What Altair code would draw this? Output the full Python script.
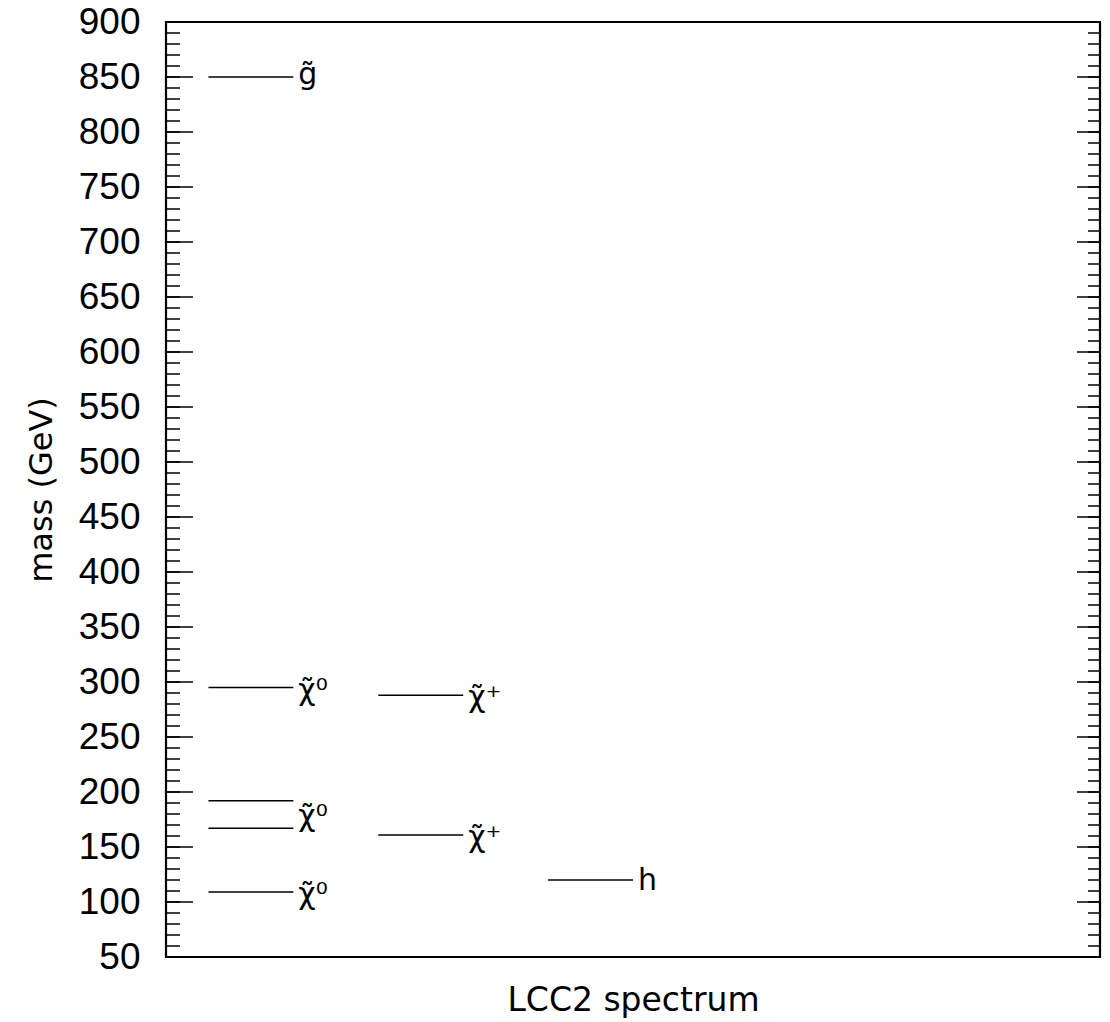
import altair as alt
import pandas as pd

# Mass levels (GeV) and the column each level sits in
level_names = ["gluino", "chi01", "chi02", "chi03", "chi04", "chi1p", "chi2p", "h"]
level_mass = [850, 109, 167, 192, 295, 161, 288, 120]
level_x0 = [0.5, 0.5, 0.5, 0.5, 0.5, 2.5, 2.5, 4.5]
level_x1 = [1.5, 1.5, 1.5, 1.5, 1.5, 3.5, 3.5, 5.5]

# Labels next to the levels
label_text = ["g\u0303", "\u03c7\u0303\u2070", "\u03c7\u0303\u2070", "\u03c7\u0303\u2070",
              "\u03c7\u0303\u207a", "\u03c7\u0303\u207a", "h"]
label_mass = [850, 295, 180, 109, 288, 161, 120]
label_x = [1.5, 1.5, 1.5, 1.5, 3.5, 3.5, 5.5]
label_dy = [-2, 3, 3, 3, 3, 3, 1]

major_ticks = list(range(50, 901, 50))
minor_ticks = list(range(50, 901, 10))

W, H = 934, 935
FONT = "DejaVu Sans"
NUMFONT = "Liberation Sans"

levels = pd.DataFrame({"name": level_names, "mass": level_mass, "x0": level_x0, "x1": level_x1})
labels = pd.DataFrame({"text": label_text, "mass": label_mass, "x": label_x, "dy": label_dy})
majors = pd.DataFrame({"v": major_ticks})
minors = pd.DataFrame({"v": minor_ticks})

yscale = alt.Scale(domain=[50, 900], nice=False, zero=False)
xscale = alt.Scale(domain=[0, 11], nice=False, zero=False)

level_layer = alt.Chart(levels).mark_rule(color="black", strokeWidth=1.5).encode(
    x=alt.X("x0:Q", scale=xscale,
            axis=alt.Axis(title="LCC2 spectrum", labels=False, ticks=False, domain=False,
                          grid=False, titleFont=FONT, titleFontSize=33, titleFontWeight="normal",
                          titleColor="black", titlePadding=27)),
    x2="x1:Q",
    y=alt.Y("mass:Q", scale=yscale,
            axis=alt.Axis(title="mass (GeV)", values=major_ticks, ticks=False, domain=False,
                          grid=False, labelFont=NUMFONT, labelFontSize=37, labelColor="black",
                          labelPadding=26, titleFont=FONT, titleFontSize=32,
                          titleFontWeight="normal", titleColor="black", titlePadding=20)),
)

label_layer = alt.Chart(labels).mark_text(
    align="left", baseline="middle", dx=5, font=FONT, fontSize=30, color="black"
).encode(
    x=alt.X("x:Q", scale=xscale),
    y=alt.Y("mass:Q", scale=yscale),
    text="text:N",
)

def tick_layer(df, x_from, x_to):
    return alt.Chart(df).mark_rule(color="black", strokeWidth=1.5).encode(
        x=alt.value(x_from), x2=alt.value(x_to), y=alt.Y("v:Q", scale=yscale)
    )

# per-label vertical nudges
label_layers = [
    alt.Chart(labels[labels["dy"] == d]).mark_text(
        align="left", baseline="middle", dx=5, dy=d, font=FONT, fontSize=30, color="black"
    ).encode(x=alt.X("x:Q", scale=xscale), y=alt.Y("mass:Q", scale=yscale), text="text:N")
    for d in sorted(set(label_dy))
]

chart = alt.layer(
    tick_layer(minors, 0, 14),
    tick_layer(majors, 0, 27),
    tick_layer(minors, W - 12, W),
    tick_layer(majors, W - 23, W),
    level_layer,
    *label_layers,
).properties(
    width=W, height=H,
    autosize=alt.AutoSizeParams(type="none"),
    padding={"left": 166, "top": 22, "right": 10, "bottom": 65},
    background="white",
).configure_view(stroke="black", strokeWidth=2.2)

chart.save("out.html", embed_options={"renderer": "svg", "actions": False})
